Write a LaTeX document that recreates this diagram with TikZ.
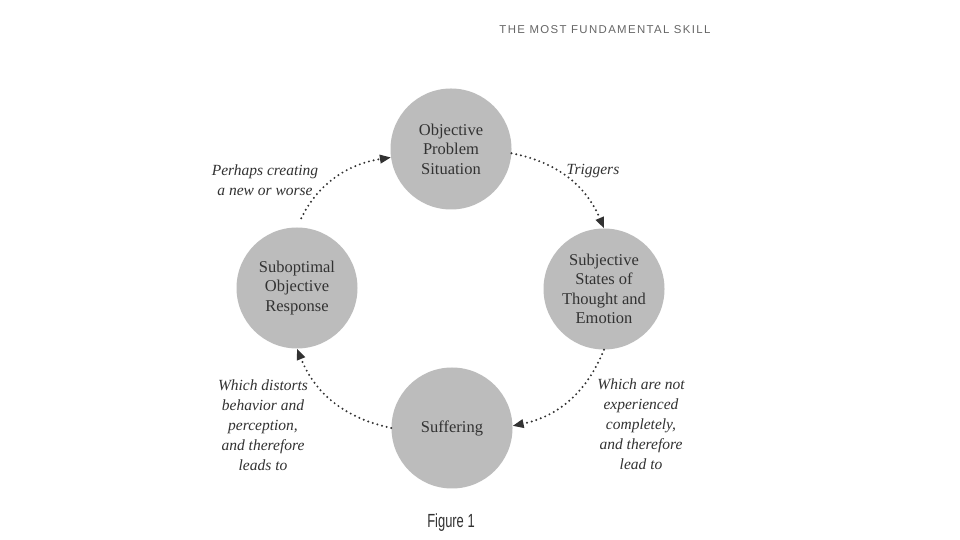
\documentclass[tikz,border=0pt]{standalone}
\usepackage{fontspec}
\setmainfont{Liberation Serif}
\newfontfamily\headfont[LetterSpace=12]{Liberation Sans}
\newfontfamily\figfont{Liberation Sans}
\usetikzlibrary{arrows.meta}
\definecolor{circfill}{RGB}{188,188,188}
\definecolor{inkc}{RGB}{50,50,50}
\tikzset{
  circnode/.style={circle, fill=circfill, minimum size=121pt, inner sep=0pt,
    align=center, font=\fontsize{16.5}{19.5}\selectfont, text=inkc},
  cyclelink/.style={draw=inkc, line width=2.2pt, line cap=round,
    dash pattern=on 0pt off 4.8pt,
    -{Triangle[length=11pt,width=8.5pt]}, bend left=28},
  lbl/.style={align=center, font=\fontsize{15.5}{20}\selectfont\itshape, text=inkc}
}
\begin{document}
\begin{tikzpicture}[x=1pt,y=1pt]
\useasboundingbox (0,0) rectangle (960,540);
\fill[white] (0,0) rectangle (960,540);
\node[text=black!60, font=\headfont\fontsize{11.4}{13}\selectfont] (head) at (605,510) {THE MOST FUNDAMENTAL SKILL};
\node[circnode] (top) at (451,391) {Objective\\Problem\\Situation};
\node[circnode] (right) at (604,251) {Subjective\\States of\\Thought and\\Emotion};
\node[circnode] (left) at (297,252) {Suboptimal\\Objective\\Response};
\node[circnode] (bottom) at (452,112) {Suffering};
\draw[cyclelink] (top.-4) to (right.north);
\draw[cyclelink] (right.south) to (bottom.2);
\draw[cyclelink] (bottom.180) to (left.south);
\draw[cyclelink, shorten <=10pt] (left.north) to (top.188);
\node[lbl] (l1) at (593,369) {Triggers};
\node[lbl] (l2) at (641,116) {Which are not\\experienced\\completely,\\and therefore\\lead to};
\node[lbl] (l3) at (263,115) {Which distorts\\behavior and\\perception,\\and therefore\\leads to};
\node[lbl] (l4) at (265,360) {Perhaps creating\\a new or worse};
\node[text=inkc, font=\figfont\fontsize{19}{20}\selectfont] (fig) at (451,17) {\scalebox{0.68}[1]{Figure 1}};
\end{tikzpicture}
\end{document}
